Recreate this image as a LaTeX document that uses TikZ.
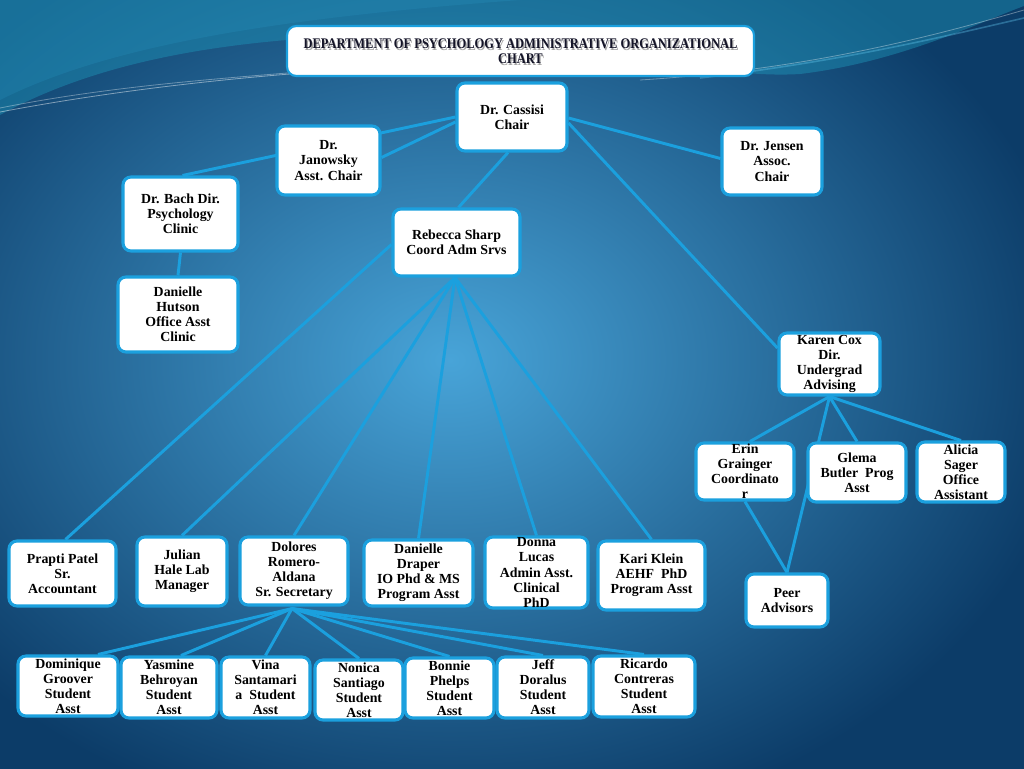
\documentclass[tikz,border=0pt]{standalone}
\usepackage{fontspec}
\setmainfont{Liberation Serif}
\newfontfamily\titlefont[FakeStretch=0.85]{Liberation Serif}
\usetikzlibrary{fit,calc}
\pgfdeclarelayer{bg}
\pgfdeclarelayer{lines}
\pgfsetlayers{bg,lines,main}
\definecolor{lineblue}{RGB}{27,160,222}
\definecolor{bgin}{RGB}{72,164,216}
\definecolor{bgout}{RGB}{12,60,104}
\definecolor{swoosh}{RGB}{30,150,185}
\definecolor{titletext}{RGB}{20,20,40}
\tikzset{
  box/.style={draw=lineblue, line width=2.3pt, fill=white, rounded corners=6pt, inner sep=0pt},
  txt/.style={font=\bfseries\fontsize{10.4}{11.3}\selectfont, align=center, text=black, inner sep=0pt},
  conn/.style={draw=lineblue, line width=2.2pt},
  ttl/.style={font=\titlefont\bfseries\fontsize{11}{11.3}\selectfont, align=center, inner sep=0pt},
}
\newcommand\obox[6]{%
  \path (#2,#3) coordinate (#1-nw) (#4,#5) coordinate (#1-se);
  \node[box, fit=(#1-nw)(#1-se)] (#1) {};
  \node[txt] (#1-t) at (#1.center) {#6};}
\begin{document}
\begin{tikzpicture}[x=0.75pt,y=-0.75pt]
\useasboundingbox (0,0) rectangle (1024,768);
\begin{pgfonlayer}{bg}
  \clip (0,0) rectangle (1024,768);
  \shade[inner color=bgin, outer color=bgout] (-180,-120) rectangle (1080,840);
  \fill[swoosh, opacity=0.45] (0,0) -- (0,115) .. controls (110,55) and (250,36) .. (420,34)
     .. controls (600,36) and (700,80) .. (800,74) .. controls (900,62) and (980,22) .. (1024,6) -- (1024,0) -- cycle;
  \fill[cyan!60!teal, opacity=0.22] (0,0) -- (0,100) .. controls (100,50) and (250,20) .. (520,0) -- cycle;
  \draw[white, opacity=0.45, line width=0.6pt] (0,112) .. controls (90,95) and (190,82) .. (290,74);
  \draw[white, opacity=0.35, line width=0.6pt] (0,108) .. controls (100,88) and (200,80) .. (300,72);
  \draw[white, opacity=0.35, line width=0.6pt] (640,80) .. controls (800,70) and (920,40) .. (1024,10);
  \draw[cyan!60!white, opacity=0.35, line width=1.2pt] (700,78) .. controls (850,60) and (950,35) .. (1024,18);
\end{pgfonlayer}

% title
\path (287,26) coordinate (ttl-nw) (754,76) coordinate (ttl-se);
\node[draw=lineblue, line width=1.6pt, fill=white, rounded corners=7pt, inner sep=0pt, fit=(ttl-nw)(ttl-se)] (title) {};
\node[ttl, text=black!45, opacity=0.8] at ($(title.center)+(1.2,1.8)$) {DEPARTMENT OF PSYCHOLOGY ADMINISTRATIVE ORGANIZATIONAL\\CHART};
\node[ttl, text=titletext] (title-t) at (title.center) {DEPARTMENT OF PSYCHOLOGY ADMINISTRATIVE ORGANIZATIONAL\\CHART};

% boxes
\obox{cassisi}{457}{83}{567}{151}{Dr. Cassisi\\Chair}
\obox{jan}{277}{126}{380}{195}{Dr.\\Janowsky\\Asst. Chair}
\obox{jensen}{722}{128}{822}{195}{Dr. Jensen\\Assoc.\\Chair}
\obox{bach}{123}{177}{238}{251}{Dr. Bach Dir.\\Psychology\\Clinic}
\obox{hutson}{118}{277}{238}{352}{Danielle\\Hutson\\Office Asst\\Clinic}
\obox{sharp}{393}{209}{520}{276}{Rebecca Sharp\\Coord Adm Srvs}
\obox{karen}{779}{333}{880}{395}{Karen Cox\\Dir.\\Undergrad\\Advising}
\obox{erin}{696}{443}{794}{500}{Erin\\Grainger\\Coordinato\\r}
\obox{glema}{808}{443}{906}{502}{Glema\\Butler\ \ Prog\\Asst}
\obox{alicia}{917}{442}{1005}{502}{Alicia\\Sager\\Office\\Assistant}
\obox{peer}{746}{574}{828}{627}{Peer\\Advisors}
\obox{prapti}{9}{541}{116}{606}{Prapti Patel\\Sr.\\Accountant}
\obox{julian}{137}{537}{227}{606}{Julian\\Hale Lab\\Manager}
\obox{dolores}{240}{537}{348}{605}{Dolores\\Romero-\\Aldana\\Sr. Secretary}
\obox{draper}{364}{540}{473}{606}{Danielle\\Draper\\IO Phd \& MS\\Program Asst}
\obox{donna}{485}{537}{588}{608}{Donna\\Lucas\\Admin Asst.\\Clinical\\PhD}
\obox{kari}{598}{541}{705}{610}{Kari Klein\\AEHF\ \ PhD\\Program Asst}
\obox{dom}{18}{656}{118}{716}{Dominique\\Groover\\Student\\Asst}
\obox{yas}{121}{657}{217}{718}{Yasmine\\Behroyan\\Student\\Asst}
\obox{vina}{221}{657}{310}{718}{Vina\\Santamari\\a\ \ Student\\Asst}
\obox{nonica}{315}{660}{403}{720}{Nonica\\Santiago\\Student\\Asst}
\obox{bonnie}{405}{658}{494}{718}{Bonnie\\Phelps\\Student\\Asst}
\obox{jeff}{497}{657}{589}{718}{Jeff\\Doralus\\Student\\Asst}
\obox{ricardo}{593}{656}{695}{717}{Ricardo\\Contreras\\Student\\Asst}

% connectors
\begin{pgfonlayer}{lines}
  \draw[conn] (cassisi.west) -- ($(bach.north)+(2,0)$);
  \draw[conn] ($(cassisi.west)+(0,5)$) -- ($(jan.east)+(0,-3)$);
  \draw[conn] ($(cassisi.east)+(0,1)$) -- ($(jensen.west)+(0,-3)$);
  \draw[conn] ($(cassisi.east)+(0,6)$) -- ($(karen.west)+(0,-16)$);
  \draw[conn] ($(cassisi.south)+(-4,0)$) -- ($(sharp.north)+(2,0)$);
  \draw[conn] (bach.south) -- (hutson.north);
  \draw[conn] ($(sharp.west)+(0,2)$) -- ($(prapti.north)+(3,0)$);
  \coordinate (sfan) at ($(sharp.south)+(-1.5,0)$);
  \foreach \n in {julian,dolores,draper,donna,kari} \draw[conn] (sfan) -- (\n.north);
  \coordinate (kfan) at (karen.south);
  \draw[conn] (kfan) -- ($(erin.north)+(5,0)$);
  \foreach \n in {glema,alicia,peer} \draw[conn] (kfan) -- (\n.north);
  \draw[conn] (erin.south) -- (peer.north);
  \coordinate (dfan) at ($(dolores.south)+(-2,2)$);
  \draw[conn] (dfan) -- ($(dom.north)+(30,0)$);
  \draw[conn] (dfan) -- ($(yas.north)+(12,0)$);
  \foreach \n in {vina,nonica,bonnie,jeff,ricardo} \draw[conn] (dfan) -- (\n.north);
\end{pgfonlayer}
\end{tikzpicture}
\end{document}
